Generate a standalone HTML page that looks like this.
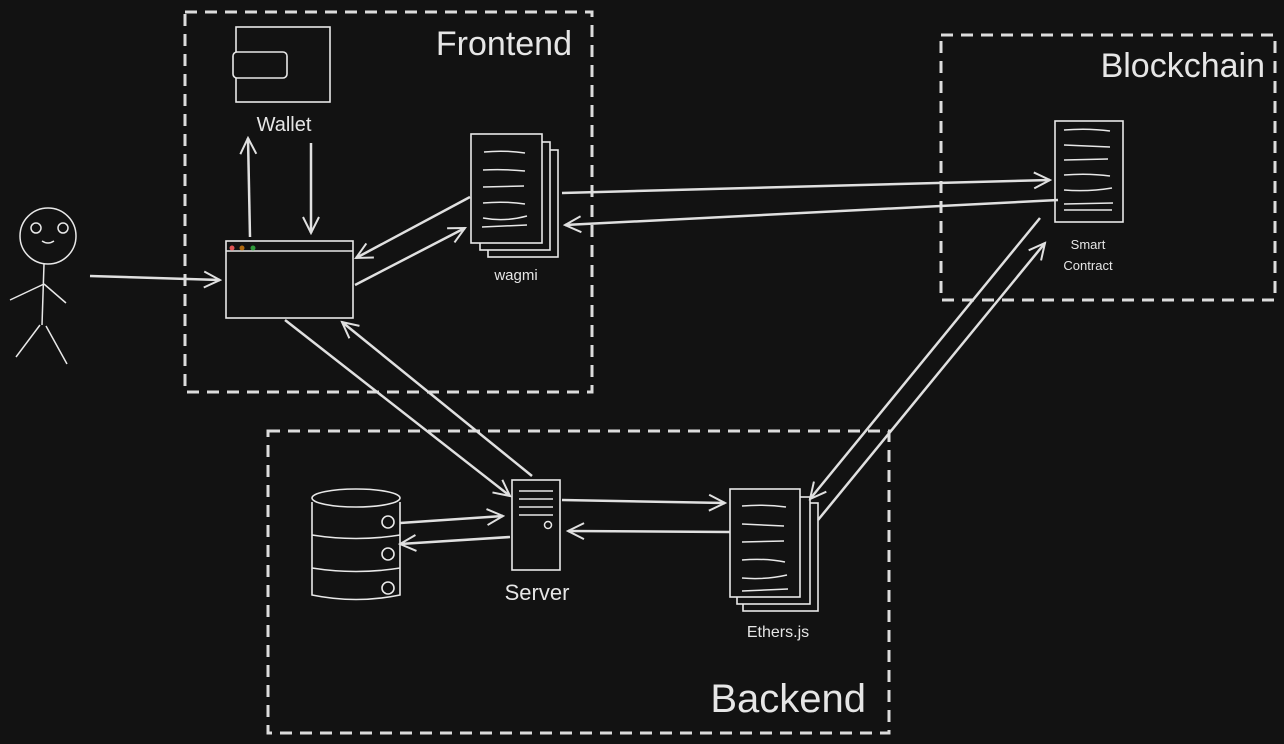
<!DOCTYPE html>
<html><head><meta charset="utf-8"><style>
html,body{margin:0;padding:0;background:#121212;width:1284px;height:744px;overflow:hidden}
svg{display:block}
text{font-family:"Liberation Sans",sans-serif;fill:#e6e6e6}
</style></head><body>
<svg width="1284" height="744" viewBox="0 0 1284 744" xmlns="http://www.w3.org/2000/svg">
<defs>
<marker id="a" viewBox="0 0 20 20" refX="18" refY="10" markerWidth="20" markerHeight="20" markerUnits="userSpaceOnUse" orient="auto">
<path d="M2,2 L18,10 L2,18" fill="none" stroke="#e0e0e0" stroke-width="2"/>
</marker>
</defs>
<rect width="1284" height="744" fill="#121212"/>
<g fill="none" stroke="#dcdcdc" stroke-width="3" stroke-dasharray="12 8">
<rect x="185" y="12" width="407" height="380"/>
<rect x="941" y="35" width="334" height="265"/>
<rect x="268" y="431" width="621" height="302"/>
</g>
<text x="572" y="55" font-size="34" text-anchor="end">Frontend</text>
<text x="1265" y="77" font-size="34" text-anchor="end">Blockchain</text>
<text x="866" y="712" font-size="40" text-anchor="end">Backend</text>

<g fill="#121212" stroke="#e8e8e8" stroke-width="1.6">
<!-- wallet -->
<rect x="236" y="27" width="94" height="75"/>
<rect x="233" y="52" width="54" height="26" rx="4"/>
<!-- browser -->
<rect x="226" y="241" width="127" height="77"/>
<line x1="226" y1="251" x2="353" y2="251"/>
<!-- wagmi -->
<rect x="488" y="150" width="70" height="107"/>
<rect x="480" y="142" width="70" height="108"/>
<rect x="471" y="134" width="71" height="109"/>
<!-- smart contract -->
<rect x="1055" y="121" width="68" height="101"/>
<!-- server -->
<rect x="512" y="480" width="48" height="90"/>
<!-- ethers -->
<rect x="743" y="503" width="75" height="108"/>
<rect x="737" y="497" width="73" height="107"/>
<rect x="730" y="489" width="70" height="108"/>
<!-- db -->
<path d="M312,502 L312,595 Q356,604 400,595 L400,502"/>
<ellipse cx="356" cy="498" rx="44" ry="9"/>
<path d="M312,535 Q356,542 400,535 M312,568 Q356,575 400,568"/>
<circle cx="388" cy="522" r="6"/><circle cx="388" cy="554" r="6"/><circle cx="388" cy="588" r="6"/>
</g>
<circle cx="232" cy="248" r="2.5" fill="#e05555"/>
<circle cx="242" cy="248" r="2.5" fill="#b06a10"/>
<circle cx="253" cy="248" r="2.5" fill="#2f9a3a"/>
<g stroke="#e8e8e8" stroke-width="1.5" fill="none">
<path d="M484,152 Q505,150 525,153 M483,170 Q505,169 525,171 M483,187 L524,186 M483,203 Q505,201 525,204 M483,218 Q505,222 527,216 M482,227 L527,225"/>
<path d="M1064,130 Q1088,128 1110,131 M1064,145 L1110,147 M1064,160 L1108,159 M1064,175 Q1088,173 1110,176 M1064,190 Q1088,192 1112,188 M1064,204 L1113,203 M1064,210 L1112,210"/>
<path d="M742,506 Q765,504 786,507 M742,524 L784,526 M742,542 L784,541 M742,560 Q765,558 785,562 M742,578 Q765,580 787,575 M742,591 L788,589"/>
<path d="M519,491 L553,491 M519,499 L553,499 M519,507 L553,507 M519,515 L553,515"/>
<circle cx="548" cy="525" r="3.5"/>
<!-- person -->
<circle cx="48" cy="236" r="28"/>
<circle cx="36" cy="228" r="5"/><circle cx="63" cy="228" r="5"/>
<path d="M42,241 Q48,245 54,241"/>
<path d="M44,264 L42,325 M44,284 L10,300 M44,284 L66,303 M40,325 L16,357 M46,326 L67,364"/>
</g>
<circle cx="37" cy="227" r="2" fill="#121212"/><circle cx="64" cy="227" r="2" fill="#121212"/>

<g stroke="#e0e0e0" stroke-width="2.5" fill="none" marker-end="url(#a)">
<line x1="90" y1="276" x2="220" y2="280"/>
<line x1="250" y1="237" x2="248" y2="138"/>
<line x1="311" y1="143" x2="311" y2="233"/>
<line x1="470" y1="197" x2="356" y2="258"/>
<line x1="355" y1="285" x2="465" y2="228"/>
<line x1="285" y1="320" x2="510" y2="496"/>
<line x1="532" y1="476" x2="342" y2="322"/>
<line x1="562" y1="193" x2="1050" y2="180"/>
<line x1="1058" y1="200" x2="565" y2="225"/>
<line x1="400" y1="523" x2="503" y2="516"/>
<line x1="510" y1="537" x2="400" y2="544"/>
<line x1="562" y1="500" x2="725" y2="503"/>
<line x1="730" y1="532" x2="568" y2="531"/>
<line x1="818" y1="520" x2="1045" y2="243"/>
<line x1="1040" y1="218" x2="810" y2="499"/>
</g>

<text x="284" y="131" font-size="20" text-anchor="middle">Wallet</text>
<text x="516" y="280" font-size="15" text-anchor="middle">wagmi</text>
<text x="1088" y="249" font-size="13" text-anchor="middle">Smart</text>
<text x="1088" y="270" font-size="13" text-anchor="middle">Contract</text>
<text x="537" y="600" font-size="22" text-anchor="middle">Server</text>
<text x="778" y="637" font-size="16" text-anchor="middle">Ethers.js</text>
</svg>
</body></html>
